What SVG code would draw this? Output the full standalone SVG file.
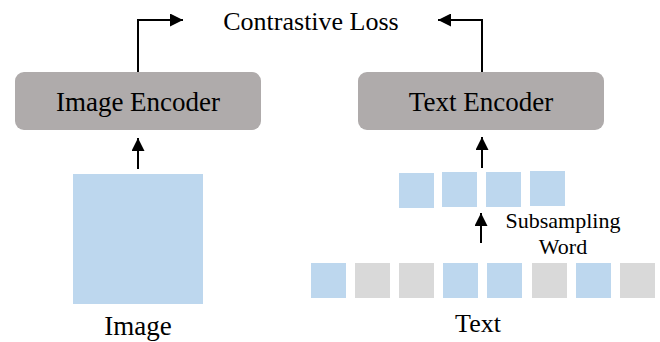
<svg xmlns="http://www.w3.org/2000/svg" width="660" height="342" viewBox="0 0 660 342">
<style>
text{font-family:"Liberation Serif","Times New Roman",serif;fill:#000}
.enc{fill:#AFABAB}
.blue{fill:#BDD7EE}
.gray{fill:#D9D9D9}
.conn{fill:none;stroke:#000;stroke-width:2}
</style>
<defs>
<marker id="ah" viewBox="0 0 10 10" refX="10" refY="5" markerWidth="6.5" markerHeight="6.5" orient="auto" markerUnits="strokeWidth">
<path d="M0,0 L10,5 L0,10 Z" fill="#000"/>
</marker>
</defs>
<g id="contrastive-loss"><text x="311" y="30" font-size="26" text-anchor="middle">Contrastive Loss</text></g>
<g id="image-encoder">
<rect class="enc" x="15" y="72" width="246" height="58" rx="9"/>
<text x="138" y="111" font-size="27" text-anchor="middle">Image Encoder</text>
</g>
<g id="text-encoder">
<rect class="enc" x="358" y="72" width="246" height="58" rx="9"/>
<text x="481" y="111" font-size="27" text-anchor="middle">Text Encoder</text>
</g>
<g id="image">
<rect class="blue" x="73" y="174" width="130" height="130"/>
<text x="138" y="335" font-size="27" text-anchor="middle">Image</text>
</g>
<g id="subsampled-words">
<rect class="blue" x="399" y="173" width="35" height="35"/>
<rect class="blue" x="442" y="172" width="35" height="35"/>
<rect class="blue" x="486" y="172" width="35" height="35"/>
<rect class="blue" x="530" y="171" width="35" height="35"/>
</g>
<g id="text">
<rect class="blue" x="311" y="263" width="35" height="35"/>
<rect class="gray" x="355" y="263" width="35" height="35"/>
<rect class="gray" x="399" y="263" width="35" height="35"/>
<rect class="blue" x="443" y="263" width="35" height="35"/>
<rect class="blue" x="487" y="263" width="35" height="35"/>
<rect class="gray" x="532" y="263" width="35" height="35"/>
<rect class="blue" x="576" y="263" width="35" height="35"/>
<rect class="gray" x="620" y="263" width="35" height="35"/>
<text x="478" y="332" font-size="26" text-anchor="middle">Text</text>
</g>
<g id="subsampling-label">
<text x="563" y="228" font-size="22" text-anchor="middle">Subsampling</text>
<text x="563" y="254" font-size="22" text-anchor="middle">Word</text>
</g>
<g id="connectors">
<path class="conn" d="M138,72 V20 H183" marker-end="url(#ah)"/>
<path class="conn" d="M482,72 V20 H438" marker-end="url(#ah)"/>
<path class="conn" d="M138,169 V138" marker-end="url(#ah)"/>
<path class="conn" d="M482,168 V137" marker-end="url(#ah)"/>
<path class="conn" d="M481,243 V213" marker-end="url(#ah)"/>
</g>
</svg>
